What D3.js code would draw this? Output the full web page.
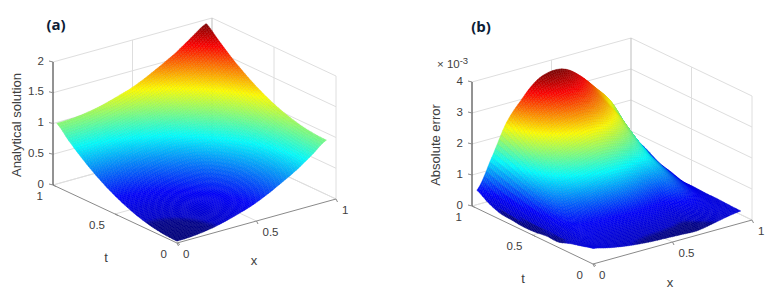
<!DOCTYPE html>
<html>
<head>
<meta charset="utf-8">
<style>
html,body{margin:0;padding:0;background:#fff}
svg{display:block}
text{font-family:"Liberation Sans",Arial,sans-serif;fill:#404040}
</style>
<script src="https://cdnjs.cloudflare.com/ajax/libs/d3/7.8.5/d3.min.js"></script>
</head>
<body>
<svg id="chart" width="775" height="296"></svg>
<script>
// ---- tick labels ----
const xyTicks = [0, 0.5, 1];
const zTicksA = [0, 0.5, 1, 1.5, 2];
const zTicksB = [0, 1, 2, 3, 4];

// ---- grid positions of the sampled surface ----
const xNodesA = [0, .094, .188, .282, .376, .47, .564, .658, .752, .846, .94];
const tNodesA = [0, .097, .194, .291, .388, .485, .582, .679, .776, .873, .97];
const xNodesB = [0, .093, .186, .279, .372, .465, .558, .651, .744, .837, .93];
const tNodesB = [0, .096, .192, .288, .384, .48, .576, .672, .768, .864, .96];

// ---- (a) analytical solution: one row per t node, one value per x node ----
const analyticalRows = [
 [.03,.04,.07,.12,.19,.27,.38,.51,.65,.82,1.00],
 [.04,.05,.08,.13,.20,.28,.39,.52,.66,.83,1.01],
 [.07,.08,.11,.16,.23,.31,.42,.55,.69,.86,1.04],
 [.12,.13,.16,.21,.28,.36,.47,.60,.74,.91,1.09],
 [.19,.20,.23,.28,.35,.43,.54,.67,.81,.98,1.16],
 [.28,.29,.32,.37,.44,.52,.63,.76,.90,1.07,1.25],
 [.39,.40,.43,.48,.55,.63,.74,.87,1.01,1.18,1.36],
 [.52,.53,.56,.61,.68,.76,.87,1.00,1.14,1.31,1.49],
 [.67,.68,.71,.76,.83,.91,1.02,1.15,1.29,1.46,1.64],
 [.84,.85,.88,.93,1.00,1.08,1.19,1.32,1.46,1.63,1.81],
 [1.03,1.04,1.07,1.12,1.19,1.27,1.38,1.51,1.65,1.82,1.98]
];

// ---- (b) absolute error x 10^-3: one row per t node, one value per x node ----
const errorRows = [
 [.50,.39,.30,.24,.20,.18,.16,.14,.22,.32,.39],
 [.40,.42,.37,.33,.30,.29,.27,.24,.35,.42,.40],
 [.30,.48,.48,.47,.46,.47,.44,.42,.55,.50,.42],
 [.17,.56,.63,.67,.70,.72,.69,.66,.80,.62,.42],
 [.18,.68,.87,.98,1.06,1.11,1.08,1.02,1.05,.75,.44],
 [.13,.82,1.16,1.36,1.49,1.57,1.54,1.45,1.35,.90,.45],
 [.12,.97,1.44,1.73,1.92,2.04,2.00,1.86,1.60,1.05,.57],
 [.16,1.11,1.73,2.10,2.35,2.50,2.46,2.28,1.95,1.25,.68],
 [.20,1.26,2.02,2.47,2.77,2.96,2.92,2.68,2.30,1.55,.90],
 [.35,1.39,2.28,2.81,3.17,3.39,3.35,3.05,2.55,1.90,1.10],
 [.58,1.50,2.50,3.10,3.58,3.76,3.70,3.35,2.85,2.30,1.40]
];

const panels = [
 {letter:"(a)", letterPos:[56,30], zTitle:"Analytical solution", titlePos:[21,125],
  zMax:2, zTicks:zTicksA, xNodes:xNodesA, tNodes:tNodesA, rows:analyticalRows,
  front:[177,243], xVec:[159,-44], tVec:[-124,-58], zVec:[0,-123],
  tLabel:[106,262], xLabel:[254,265], cDomain:[.03,1.98]},
 {letter:"(b)", letterPos:[481,32], zTitle:"Absolute error", titlePos:[440,145],
  zMax:4, zTicks:zTicksB, xNodes:xNodesB, tNodes:tNodesB, rows:errorRows,
  front:[593,264], xVec:[159,-44], tVec:[-121,-58], zVec:[0,-124],
  tLabel:[523,283], xLabel:[670,287], cDomain:[.12,3.76], exponent:true}
];

const jetPos = [0,.03,.04,.125,.375,.625,.875,1];
const jetCol = ["#000080","#000090","#0000d0","#0000ff","#00ffff","#ffff00","#ff0000","#800000"];

const svg = d3.select("#chart");
const SUB = 8;

function cr(p0,p1,p2,p3,s){
  return .5*((2*p1)+(-p0+p2)*s+(2*p0-5*p1+4*p2-p3)*s*s+(-p0+3*p1-3*p2+p3)*s*s*s);
}
function sampleRow(row,i,s){
  const n=row.length;
  return cr(row[Math.max(i-1,0)],row[i],row[Math.min(i+1,n-1)],row[Math.min(i+2,n-1)],s);
}
function sample(rows,i,j,s,u){
  const m=rows.length;
  return cr(sampleRow(rows[Math.max(j-1,0)],i,s),sampleRow(rows[j],i,s),
            sampleRow(rows[Math.min(j+1,m-1)],i,s),sampleRow(rows[Math.min(j+2,m-1)],i,s),u);
}

panels.forEach(p=>{
  const g = svg.append("g");
  const sx = d3.scaleLinear().domain([0,1]).range([0,1]);
  const sz = d3.scaleLinear().domain([0,p.zMax]).range([0,1]);
  const P = (x,t,z)=>[
    p.front[0]+p.xVec[0]*sx(x)+p.tVec[0]*sx(t)+p.zVec[0]*sz(z),
    p.front[1]+p.xVec[1]*sx(x)+p.tVec[1]*sx(t)+p.zVec[1]*sz(z)];
  const seg=(a,b,c,w)=>g.append("line").attr("x1",a[0]).attr("y1",a[1]).attr("x2",b[0]).attr("y2",b[1])
     .attr("stroke",c).attr("stroke-width",w||1);
  const grid="#dedede";
  // back walls and floor grid
  p.zTicks.forEach(z=>{ seg(P(0,1,z),P(1,1,z),grid); seg(P(1,1,z),P(1,0,z),grid); });
  xyTicks.slice(1).forEach(v=>{
    seg(P(v,0,0),P(v,1,0),grid); seg(P(0,v,0),P(1,v,0),grid);
    if(v<1){ seg(P(v,1,0),P(v,1,p.zMax),grid); seg(P(1,v,0),P(1,v,p.zMax),grid); }
  });
  seg(P(1,0,0),P(1,0,p.zMax),grid);
  seg(P(1,1,0),P(1,1,p.zMax),"#bdbdbd");
  // axes
  seg(P(0,0,0),P(0,1,0),"#8a8a8a");
  seg(P(0,0,0),P(1,0,0),"#8a8a8a");
  seg(P(0,1,0),P(0,1,p.zMax),"#262626");
  // ticks
  p.zTicks.forEach(z=>{ const a=P(0,1,z); seg([a[0]-4,a[1]-1],a,"#8a8a8a"); });
  xyTicks.forEach(v=>{
    const a=P(v,0,0), b=P(0,v,0);
    seg(a,[a[0]+1.5,a[1]+3],"#8a8a8a");
    seg(b,[b[0]+3,b[1]+1.5],"#8a8a8a");
  });

  // surface, painted from the far corner to the near one
  const col = d3.scaleLinear()
    .domain(jetPos.map(v=>p.cDomain[0]+v*(p.cDomain[1]-p.cDomain[0])))
    .range(jetCol).interpolate(d3.interpolateRgb).clamp(true);
  const facets=[];
  const nj=p.tNodes.length-1, ni=p.xNodes.length-1;
  for(let j=nj-1;j>=0;j--)for(let b=SUB-1;b>=0;b--)for(let i=ni-1;i>=0;i--)for(let a=SUB-1;a>=0;a--){
    const corner=(ca,cb)=>{
      const s=ca/SUB, u=cb/SUB;
      const x=p.xNodes[i]+(p.xNodes[i+1]-p.xNodes[i])*s;
      const t=p.tNodes[j]+(p.tNodes[j+1]-p.tNodes[j])*u;
      return {x,t,z:sample(p.rows,i,j,s,u)};
    };
    const c=[corner(a,b),corner(a+1,b),corner(a+1,b+1),corner(a,b+1)];
    facets.push({pts:c.map(k=>P(k.x,k.t,k.z)), z:d3.mean(c,k=>k.z)});
  }
  g.append("g").selectAll("path").data(facets).join("path")
    .attr("d",d=>"M"+d.pts.map(q=>q[0].toFixed(1)+","+q[1].toFixed(1)).join("L")+"Z")
    .attr("fill",d=>col(d.z))
    .attr("stroke",d=>d3.color(col(d.z)).darker(.3))
    .attr("stroke-width",.35);

  // tick labels
  const fs="11.5px";
  p.zTicks.forEach(z=>{ const a=P(0,1,z);
    g.append("text").attr("x",a[0]-9).attr("y",a[1]+2.5).attr("text-anchor","end").attr("font-size",fs).text(z); });
  xyTicks.forEach(v=>{
    const a=P(0,v,0), b=P(v,0,0);
    g.append("text").attr("x",a[0]-10).attr("y",a[1]+15).attr("text-anchor","end").attr("font-size",fs).text(v);
    g.append("text").attr("x",b[0]+6).attr("y",b[1]+15).attr("text-anchor","start").attr("font-size",fs).text(v);
  });
  // titles
  g.append("text").attr("transform",`translate(${p.titlePos[0]},${p.titlePos[1]}) rotate(-90)`)
    .attr("text-anchor","middle").attr("font-size","13px").text(p.zTitle);
  g.append("text").attr("x",p.tLabel[0]).attr("y",p.tLabel[1]).attr("text-anchor","middle").attr("font-size","13px").text("t");
  g.append("text").attr("x",p.xLabel[0]).attr("y",p.xLabel[1]).attr("text-anchor","middle").attr("font-size","13px").text("x");
  g.append("text").attr("x",p.letterPos[0]).attr("y",p.letterPos[1]).attr("text-anchor","middle")
    .attr("font-size","15px").attr("font-weight","bold").style("font-family","'Open Sans',sans-serif").style("fill","#0c1c36").text(p.letter);
  if(p.exponent){
    const e=g.append("text").attr("x",437).attr("y",68).attr("font-size","11.5px");
    e.append("tspan").text("\u00d7 10");
    e.append("tspan").attr("dy",-4).attr("font-size","9.5px").text("-3");
  }
});
</script>
</body>
</html>
